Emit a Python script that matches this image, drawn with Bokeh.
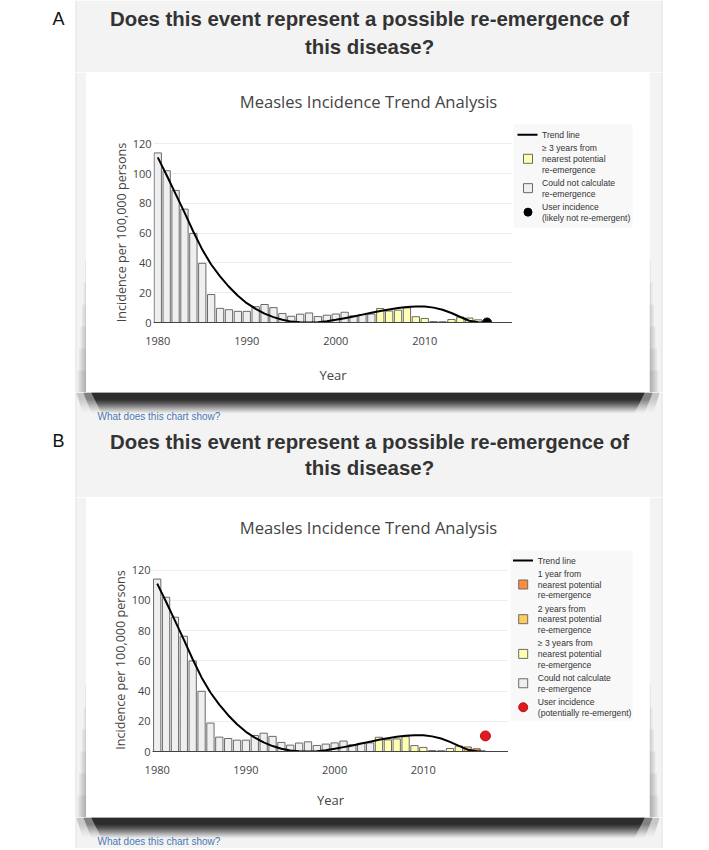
from bokeh.plotting import figure
from bokeh.models import Range1d, FixedTicker, ColumnDataSource
from bokeh.layouts import row, column
from bokeh.core.properties import value
from bokeh.embed import file_html
from bokeh.resources import INLINE

# ------------------------------------------------------------------ data
years = [1980, 1981, 1982, 1983, 1984, 1985, 1986, 1987, 1988, 1989,
         1990, 1991, 1992, 1993, 1994, 1995, 1996, 1997, 1998, 1999,
         2000, 2001, 2002, 2003, 2004, 2005, 2006, 2007, 2008, 2009,
         2010, 2011, 2012, 2013, 2014, 2015, 2016]
incidence = [114, 102, 88.8, 76.2, 59.9, 39.8, 18.8, 9.5, 8.6, 7.5,
             7.5, 10.6, 12.1, 10.0, 6.0, 4.2, 5.6, 6.4, 4.0, 4.9,
             5.7, 6.9, 4.5, 5.4, 5.7, 9.4, 7.7, 8.3, 9.8, 3.9,
             2.7, 0.6, 0.5, 2.0, 3.6, 3.0, 1.8]
# re-emergence class of every bar: "na" = could not calculate,
# "3" = >=3 years, "2" = 2 years, "1" = 1 year from nearest potential re-emergence
status_a = ["na", "na", "na", "na", "na", "na", "na", "na", "na", "na",
            "na", "na", "na", "na", "na", "na", "na", "na", "na", "na",
            "na", "na", "na", "na", "na", "3", "3", "3", "3", "3",
            "3", "3", "3", "3", "3", "3", "3"]
status_b = ["na", "na", "na", "na", "na", "na", "na", "na", "na", "na",
            "na", "na", "na", "na", "na", "na", "na", "na", "na", "na",
            "na", "na", "na", "na", "na", "3", "3", "3", "3", "3",
            "3", "3", "3", "3", "3", "2", "1"]
trend_years = [1980, 1981, 1982, 1983, 1984, 1985, 1986, 1987, 1988, 1989,
               1990, 1991, 1992, 1993, 1994, 1995, 1996, 1997, 1998, 1999,
               2000, 2001, 2002, 2003, 2004, 2005, 2006, 2007, 2008, 2009,
               2010, 2011, 2012, 2013, 2014, 2015, 2016, 2017]
trend_values = [111, 99, 86.5, 74, 61, 49, 39, 31, 24, 18,
                13, 9.2, 6, 3.6, 1.8, 0.6, 0.1, 0.0, 0.2, 0.9,
                1.8, 2.9, 4.0, 5.3, 6.5, 7.7, 8.8, 9.7, 10.4, 10.7,
                10.7, 10.0, 8.6, 6.4, 3.7, 1.2, 0.2, 0.0]
user_year = [2017]
user_a = [0.0]
user_b = [10.3]
x_ticks = [1980, 1990, 2000, 2010]
y_ticks = [0, 20, 40, 60, 80, 100, 120]

status_fill = {"1": "#fd8d3c", "2": "#fecc5c", "3": "#ffffb2", "na": "#efefef"}
user_fill_a = "#000000"
user_fill_b = "#e31a1c"

heading_lines = ["Does this event represent a possible re-emergence of", "this disease?"]
chart_title = "Measles Incidence Trend Analysis"
y_label = "Incidence per 100,000 persons"
x_label = "Year"
link_text = "What does this chart show?"
legend_a = [("line", "Trend line"),
            ("3", "\u2265 3 years from\nnearest potential\nre-emergence"),
            ("na", "Could not calculate\nre-emergence"),
            ("userA", "User incidence\n(likely not re-emergent)")]
legend_b = [("line", "Trend line"),
            ("1", "1 year from\nnearest potential\nre-emergence"),
            ("2", "2 years from\nnearest potential\nre-emergence"),
            ("3", "\u2265 3 years from\nnearest potential\nre-emergence"),
            ("na", "Could not calculate\nre-emergence"),
            ("userB", "User incidence\n(potentially re-emergent)")]

# ------------------------------------------------------------------ layout constants (page pixels)
GRAY = "#f3f3f3"
PANEL_X0, PANEL_X1 = 75, 662
CARD_X0, CARD_X1 = 86, 649
PAGE_X0, PAGE_X1 = 0, 706
PAGE_Y0, PAGE_Y1 = 0, 848
HEAD_FONT = "Liberation Sans"
PLOT_FONT = "Open Sans"
BAR_LINE = "#6a6a6a"

panels = {
    "A": dict(card_top=72, card_bottom=392, chart_top=120, frame_l=153, frame_r=512,
              frame_top=142, frame_bottom=322, xr=(1979.52, 2019.86),
              title_y=101, tick_standoff=14, label_standoff=18,
              status=status_a, user=user_a, user_fill=user_fill_a, user_line="#000000", user_size=9,
              legend=legend_a, leg_bg=(513, 632, 124, 227), leg_line=517, leg_sym=527.5,
              leg_text=541.5, leg_y0=134.3),
    "B": dict(card_top=497, card_bottom=817, chart_top=545, frame_l=152, frame_r=508,
              frame_top=568, frame_bottom=751, xr=(1979.47, 2019.6),
              title_y=527, tick_standoff=14, label_standoff=14,
              status=status_b, user=user_b, user_fill=user_fill_b, user_line="#b5121b", user_size=10,
              legend=legend_b, leg_bg=(510, 632, 550, 720), leg_line=512.5, leg_sym=522.7,
              leg_text=537.3, leg_y0=560),
}


def canvas(x0, x1, y0, y1):
    p = figure(width=x1 - x0, height=y1 - y0, x_range=Range1d(x0, x1), y_range=Range1d(y1, y0),
               x_axis_type=None, y_axis_type=None, toolbar_location=None, output_backend="svg",
               min_border=0, outline_line_color=None, background_fill_color="white",
               border_fill_color="white")
    return p


def gray_band(p, y0, y1, x0=PANEL_X0, x1=PANEL_X1):
    p.quad(left=[x0], right=[x1], top=[y0], bottom=[y1], fill_color=GRAY, line_color=None)
    if x0 == PANEL_X0:
        p.quad(left=[PANEL_X0], right=[PANEL_X0 + 1], top=[y0], bottom=[y1], fill_color="#e4e4e4", line_color=None)
    if x1 == PANEL_X1:
        p.quad(left=[PANEL_X1 - 1], right=[PANEL_X1], top=[y0], bottom=[y1], fill_color="#e4e4e4", line_color=None)


def txt(p, x, y, s, size, color="#333333", font=HEAD_FONT, style="normal", align="left"):
    p.text(x=[x], y=[y], text=[s], text_font=value(font), text_font_size=f"{size}px",
           text_font_style=style, text_color=color, text_align=align, text_baseline="middle")


def heading(p, letter, y1, y2, ly):
    txt(p, 58, ly, letter, 18, color="#111111", align="center")
    txt(p, 369, y1, heading_lines[0], 20.4, style="bold", align="center")
    txt(p, 369, y2, heading_lines[1], 20.4, style="bold", align="center")


def under_shadow(p, y0):
    L, R, T, B, A = [], [], [], [], []
    n = 21
    for i in range(n):
        if i < 6:
            a = 0.97
        else:
            a = 0.97 * (1 - (i - 6) / (n - 6)) ** 1.4
        for dx, f in ((-10 + i * 0.3, 0.2), (-3 + i * 0.4, 0.4), (5 + i * 0.5, 0.85)):
            L.append(CARD_X0 + dx)
            R.append(CARD_X1 - dx)
            T.append(y0 + i)
            B.append(y0 + i + 1)
            A.append(a * f)
    p.quad(left=L, right=R, top=T, bottom=B, fill_color="black", fill_alpha=A, line_color=None)


def side_shadow(p, edge, direction, y0, y1):
    L, R, T, B = [], [], [], []
    for i in range(6):
        w = 1.5 * (i + 1)
        if direction < 0:
            L.append(edge - w)
            R.append(edge)
        else:
            L.append(edge)
            R.append(edge + w)
        T.append(y1 - (6 - i) * 22)
        B.append(y1)
    p.quad(left=L, right=R, top=T, bottom=B, fill_color="black", fill_alpha=0.05, line_color=None)


def link(p, y):
    txt(p, 97, y, link_text, 10, color="#4a78b4")


def make_chart(cfg):
    p = figure(width=cfg["frame_r"] - CARD_X0, height=cfg["card_bottom"] - cfg["chart_top"],
               x_range=Range1d(*cfg["xr"]), y_range=Range1d(0, 121),
               min_border_left=cfg["frame_l"] - CARD_X0, min_border_right=0,
               min_border_top=cfg["frame_top"] - cfg["chart_top"],
               min_border_bottom=cfg["card_bottom"] - cfg["frame_bottom"],
               toolbar_location=None, output_backend="svg", outline_line_color=None,
               background_fill_color="white", border_fill_color="white")
    src = ColumnDataSource(dict(x=years, top=incidence,
                                fill=[status_fill[s] for s in cfg["status"]]))
    p.vbar(x="x", top="top", bottom=0, width=0.82, source=src, fill_color="fill",
           line_color=BAR_LINE, line_width=1)
    p.line(trend_years, trend_values, line_color="black", line_width=2)
    p.scatter(user_year, cfg["user"], size=cfg["user_size"], marker="circle",
              fill_color=cfg["user_fill"], line_color=cfg["user_line"])

    p.xgrid.visible = False
    p.ygrid.grid_line_color = "#eeeeee"
    p.ygrid.grid_line_width = 1

    ax = p.xaxis[0]
    ax.ticker = FixedTicker(ticks=x_ticks)
    ax.axis_line_color = "#444444"
    ax.axis_line_width = 1
    ax.major_tick_line_color = None
    ax.minor_tick_line_color = None
    ax.major_tick_out = 0
    ax.major_tick_in = 0
    ax.minor_tick_out = 0
    ax.major_label_text_font = PLOT_FONT
    ax.major_label_text_font_size = "11px"
    ax.major_label_text_color = "#444444"
    ax.major_label_standoff = cfg["tick_standoff"]
    ax.axis_label = x_label
    ax.axis_label_text_font = PLOT_FONT
    ax.axis_label_text_font_size = "13px"
    ax.axis_label_text_font_style = "normal"
    ax.axis_label_text_color = "#444444"
    ax.axis_label_standoff = cfg["label_standoff"]

    ay = p.yaxis[0]
    ay.ticker = FixedTicker(ticks=y_ticks)
    ay.axis_line_color = None
    ay.major_tick_line_color = None
    ay.minor_tick_line_color = None
    ay.major_tick_out = 0
    ay.major_tick_in = 0
    ay.minor_tick_out = 0
    ay.major_label_text_font = PLOT_FONT
    ay.major_label_text_font_size = "11px"
    ay.major_label_text_color = "#444444"
    ay.major_label_standoff = 2
    ay.axis_label = y_label
    ay.axis_label_text_font = PLOT_FONT
    ay.axis_label_text_font_size = "12.6px"
    ay.axis_label_text_font_style = "normal"
    ay.axis_label_text_color = "#444444"
    ay.axis_label_standoff = 0
    return p


def make_legend(cfg):
    p = canvas(cfg["frame_r"], CARD_X1, cfg["chart_top"], cfg["card_bottom"])
    l, r, t, b = cfg["leg_bg"]
    p.quad(left=[l], right=[r], top=[t], bottom=[b], fill_color="#f8f8f8", line_color=None)
    y = cfg["leg_y0"]
    step, gap = 10.7, 13.3
    for kind, label in cfg["legend"]:
        lines = label.split("\n")
        ys = [y + k * step for k in range(len(lines))]
        mid = sum(ys) / len(ys)
        if kind == "line":
            p.line([cfg["leg_line"], cfg["leg_line"] + 20], [mid, mid], line_color="black", line_width=2)
        elif kind in ("userA", "userB"):
            c = cfg["user_fill"]
            p.scatter([cfg["leg_sym"]], [mid], marker="circle", size=cfg["user_size"] - 1,
                      fill_color=c, line_color=cfg["user_line"])
        else:
            p.scatter([cfg["leg_sym"]], [mid], marker="square", size=9,
                      fill_color=status_fill[kind], line_color=BAR_LINE, line_width=1)
        for yy, s in zip(ys, lines):
            txt(p, cfg["leg_text"], yy, s, 8.6, color="#333333")
        y = ys[-1] + gap
    return p


def make_panel_row(cfg):
    top, bot = cfg["card_top"], cfg["card_bottom"]
    left = canvas(PAGE_X0, CARD_X0, top, bot)
    gray_band(left, top, bot, x1=CARD_X0)
    side_shadow(left, CARD_X0, -1, top, bot)
    right = canvas(CARD_X1, PAGE_X1, top, bot)
    gray_band(right, top, bot, x0=CARD_X1)
    side_shadow(right, CARD_X1, 1, top, bot)
    title = canvas(CARD_X0, CARD_X1, top, cfg["chart_top"])
    txt(title, 368, cfg["title_y"], chart_title, 16.6, color="#444444", font=PLOT_FONT, align="center")
    chart = make_chart(cfg)
    leg = make_legend(cfg)
    return row(left, column(title, row(chart, column(leg))), right)


A, B = panels["A"], panels["B"]

header = canvas(PAGE_X0, PAGE_X1, PAGE_Y0, A["card_top"])
gray_band(header, PAGE_Y0, A["card_top"])
heading(header, "A", 18, 46, 18)

mid = canvas(PAGE_X0, PAGE_X1, A["card_bottom"], B["card_top"])
gray_band(mid, A["card_bottom"], B["card_top"])
under_shadow(mid, A["card_bottom"])
link(mid, 416)
heading(mid, "B", 441, 467, 440)

bottom = canvas(PAGE_X0, PAGE_X1, B["card_bottom"], PAGE_Y1)
gray_band(bottom, B["card_bottom"], PAGE_Y1)
under_shadow(bottom, B["card_bottom"])
link(bottom, 841)

layout = column(header, make_panel_row(A), mid, make_panel_row(B), bottom)

open("out.html", "w").write(file_html(layout, INLINE))
